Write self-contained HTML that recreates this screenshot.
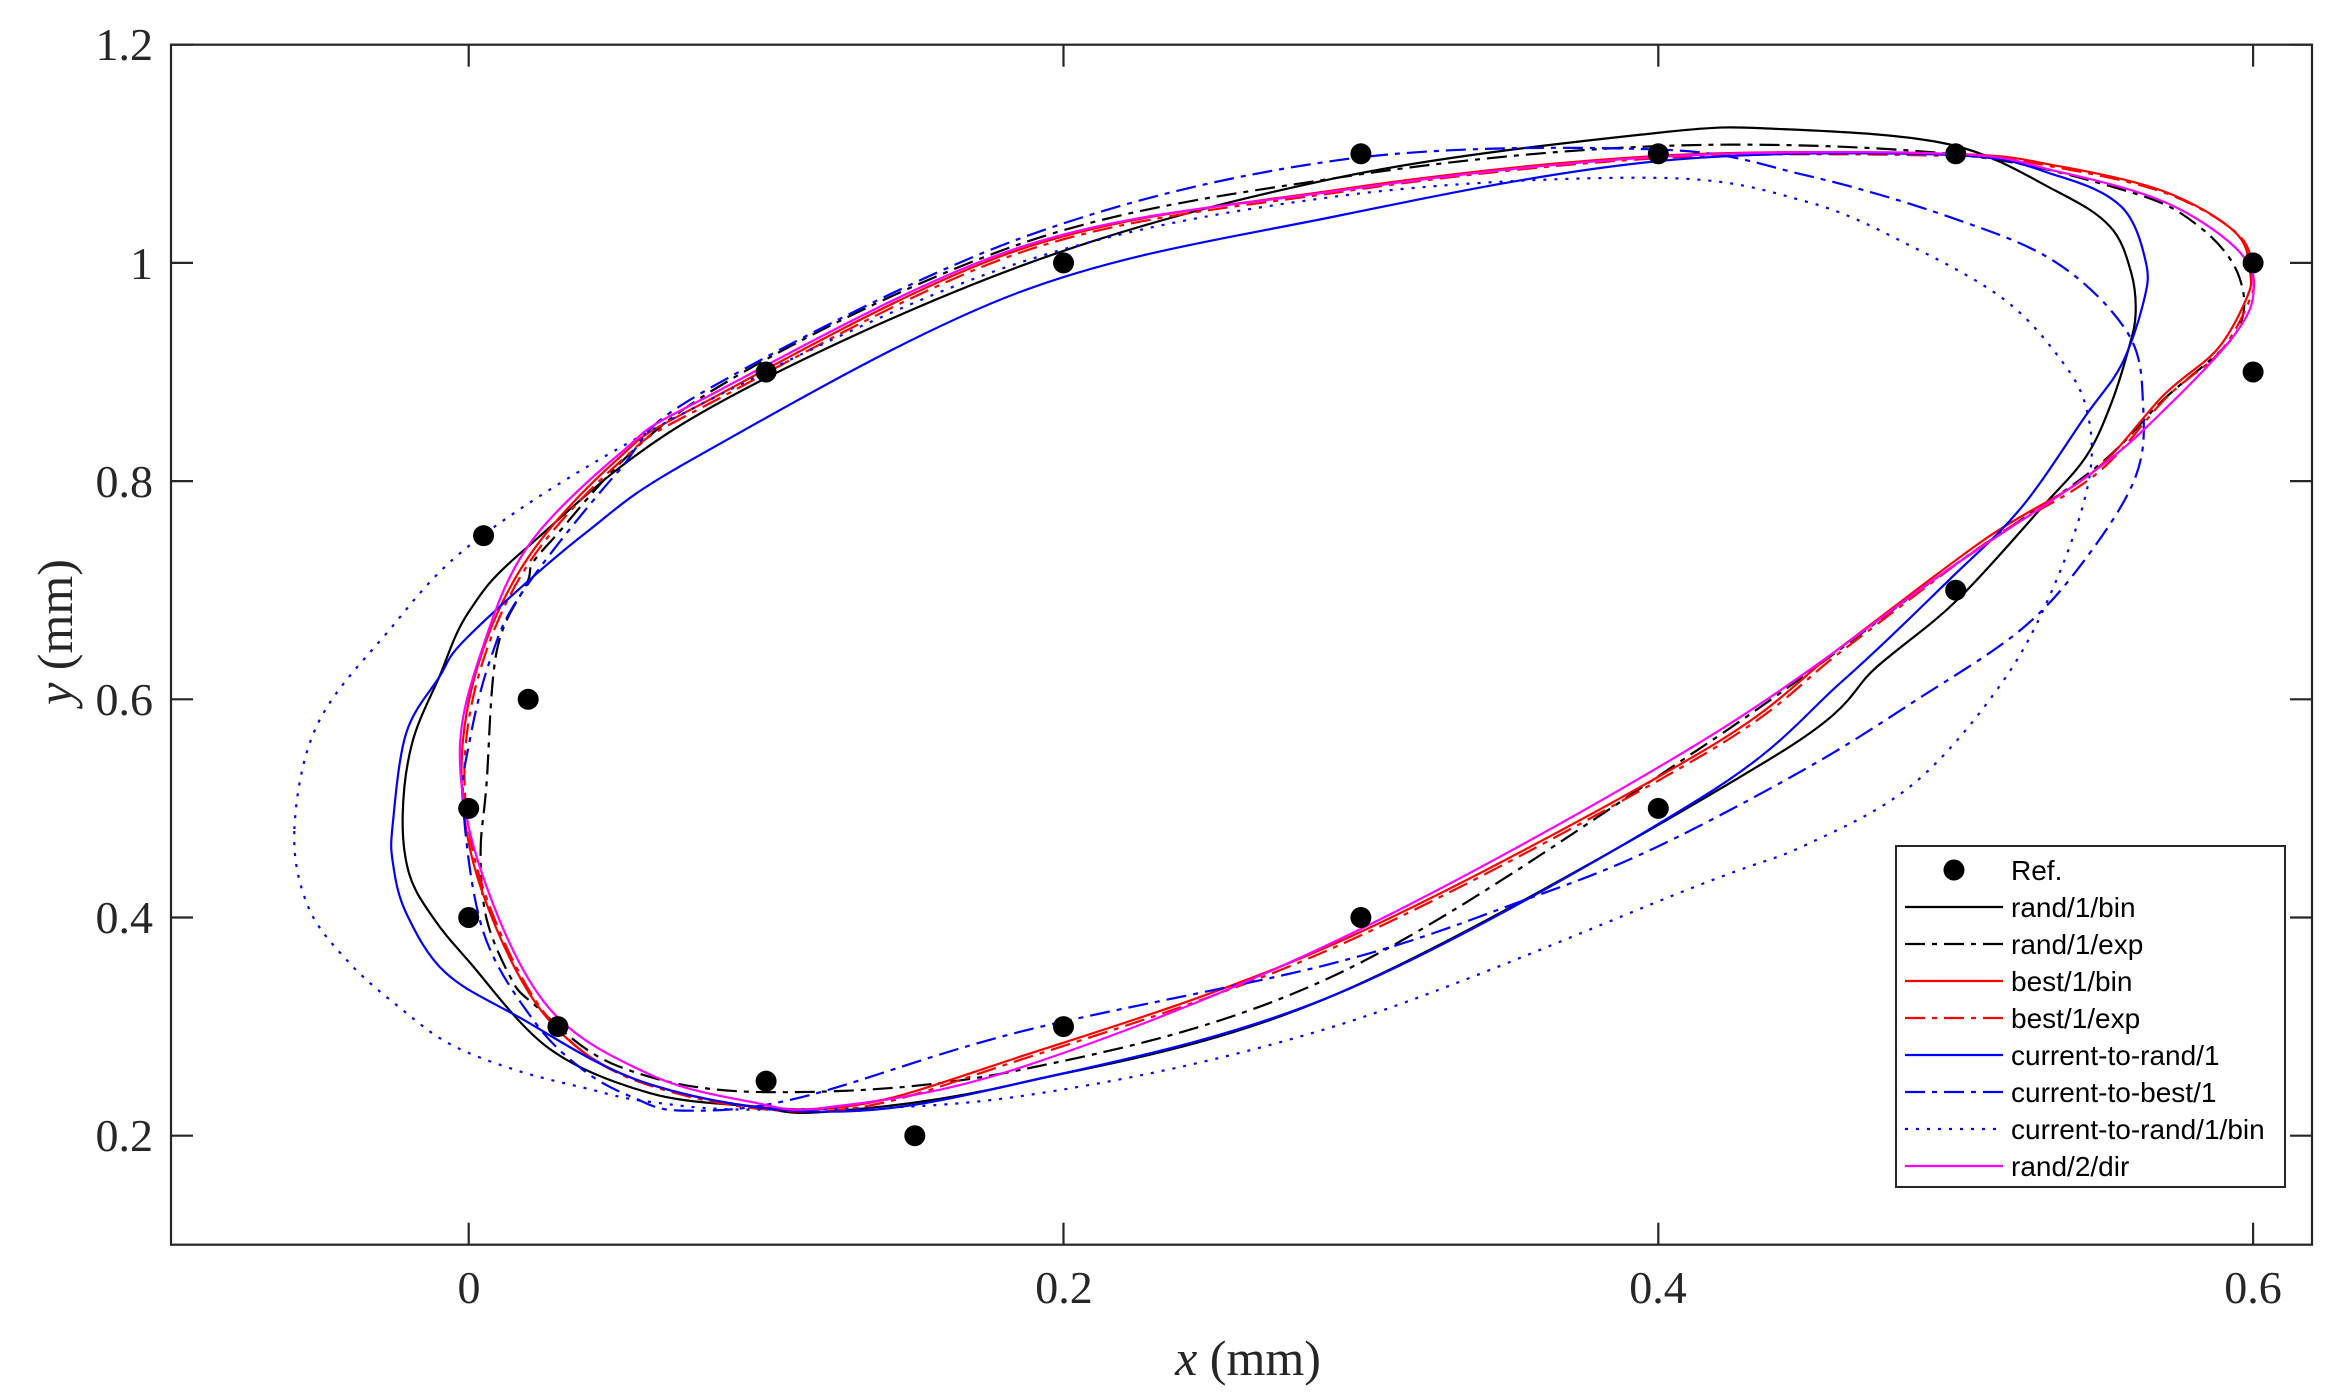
<!DOCTYPE html>
<html><head><meta charset="utf-8"><style>
html,body{margin:0;padding:0;background:#fff;}
svg{display:block;}
.tk{font-family:"Liberation Serif",serif;font-size:46px;fill:#262626;}
.lg{font-family:"Liberation Sans",sans-serif;font-size:28px;fill:#000;}
</style></head><body>
<svg id="s" width="2346" height="1397" viewBox="0 0 2346 1397" xmlns="http://www.w3.org/2000/svg">
<rect width="2346" height="1397" fill="#fff"/>
<g id="curves"></g>
<g id="pts"></g>
<rect x="171" y="44.7" width="2141" height="1200" fill="none" stroke="#262626" stroke-width="2.2"/>
<g id="ticks" stroke="#262626" stroke-width="2.2"></g>
<g class="tk" text-anchor="middle">
<text x="469" y="1303">0</text><text x="1064" y="1303">0.2</text><text x="1658" y="1303">0.4</text><text x="2253" y="1303">0.6</text>
</g>
<g class="tk" text-anchor="end">
<text x="153" y="60">1.2</text><text x="153" y="279">1</text><text x="153" y="497">0.8</text><text x="153" y="715">0.6</text><text x="153" y="933">0.4</text><text x="153" y="1151">0.2</text>
</g>
<text x="1248" y="1375" text-anchor="middle" style="font-family:'Liberation Serif',serif;font-size:50px;fill:#262626"><tspan font-style="italic">x</tspan> (mm)</text>
<text transform="translate(72,632) rotate(-90)" text-anchor="middle" style="font-family:'Liberation Serif',serif;font-size:50px;fill:#262626"><tspan font-style="italic">y</tspan> (mm)</text>
<rect x="1896" y="846" width="389" height="341" fill="#fff" stroke="#262626" stroke-width="2"/>
<g id="leg"></g>
</svg>
<script>
var X=function(x){return 468.7+2974*x;}, Y=function(y){return 44.7+(1.2-y)*1091;};
var NS="http://www.w3.org/2000/svg";
function el(p,t,a){var e=document.createElementNS(NS,t);for(var k in a)e.setAttribute(k,a[k]);p.appendChild(e);return e;}
function cr(pts){var P=pts.map(function(p){return [X(p[0]),Y(p[1])];});var n=P.length,d="M"+P[0][0].toFixed(1)+","+P[0][1].toFixed(1);
for(var i=0;i<n;i++){var p0=P[(i-1+n)%n],p1=P[i],p2=P[(i+1)%n],p3=P[(i+2)%n];
var c1=[p1[0]+(p2[0]-p0[0])/6,p1[1]+(p2[1]-p0[1])/6],c2=[p2[0]-(p3[0]-p1[0])/6,p2[1]-(p3[1]-p1[1])/6];
d+="C"+c1[0].toFixed(1)+","+c1[1].toFixed(1)+" "+c2[0].toFixed(1)+","+c2[1].toFixed(1)+" "+p2[0].toFixed(1)+","+p2[1].toFixed(1);}
return d+"Z";}
var DD="20 7 5 7", DOT="3 8";
var M=[[-0.003,0.55],[0.005,0.65],[0.0206,0.743],[0.052,0.828],[0.0778,0.874],[0.185,1.014],[0.292,1.066],[0.399,1.097],[0.498,1.1],[0.534,1.084],[0.570,1.056],[0.594,1.014],[0.6002,0.977],[0.594,0.935],[0.570,0.865],[0.546,0.808],[0.498,0.72],[0.414,0.5605],[0.292,0.379],[0.185,0.262],[0.1207,0.226],[0.095,0.231],[0.061,0.256],[0.027,0.317],[0.005,0.436]];
var R=[[-0.0024,0.526],[0.003,0.63],[0.02,0.73],[0.05,0.82],[0.0778,0.87],[0.185,1.012],[0.292,1.067],[0.399,1.098],[0.498,1.1],[0.534,1.089],[0.570,1.0655],[0.594,1.028],[0.599,0.991],[0.5977,0.967],[0.588,0.921],[0.570,0.879],[0.546,0.808],[0.510,0.747],[0.462,0.649],[0.414,0.551],[0.292,0.377],[0.185,0.272],[0.1207,0.225],[0.061,0.247],[0.027,0.306],[0.005,0.42]];
var R2=R.map(function(p){return [p[0]+0.001,p[1]-0.002];});
var K=[[-0.0222,0.494],[-0.019,0.56],[-0.01,0.62],[0.0,0.68],[0.0195,0.739],[0.0778,0.862],[0.185,0.9965],[0.292,1.078],[0.399,1.119],[0.4416,1.1226],[0.498,1.1085],[0.534,1.0655],[0.552,1.033],[0.559,0.991],[0.5605,0.953],[0.558,0.92],[0.552,0.869],[0.5437,0.822],[0.529,0.776],[0.5005,0.691],[0.474,0.631],[0.438,0.546],[0.292,0.33],[0.185,0.248],[0.1207,0.222],[0.095,0.227],[0.061,0.239],[0.027,0.28],[0.0,0.36],[-0.012,0.40],[-0.02,0.44]];
var KD=[[0.004,0.46],[0.006,0.522],[0.0094,0.644],[0.0195,0.706],[0.027,0.743],[0.0778,0.876],[0.185,1.017],[0.292,1.078],[0.399,1.107],[0.498,1.1],[0.558,1.0655],[0.582,1.033],[0.5954,0.9866],[0.594,0.935],[0.570,0.875],[0.546,0.81],[0.498,0.72],[0.414,0.555],[0.292,0.348],[0.185,0.26],[0.0992,0.24],[0.05,0.264],[0.0217,0.321],[0.0139,0.346],[0.006,0.399]];
var B=[[-0.0255,0.487],[-0.021,0.569],[-0.01,0.62],[0.0,0.658],[0.0386,0.751],[0.0778,0.824],[0.185,0.973],[0.292,1.043],[0.399,1.093],[0.498,1.099],[0.534,1.08],[0.5557,1.0515],[0.564,1.0],[0.563,0.9626],[0.5557,0.9065],[0.5437,0.86],[0.522,0.7755],[0.498,0.71],[0.462,0.617],[0.414,0.509],[0.292,0.33],[0.185,0.248],[0.1207,0.222],[0.061,0.247],[0.016,0.31],[-0.008,0.35],[-0.021,0.404],[-0.0255,0.45]];
var BD=[[-0.0018,0.501],[0.0004,0.563],[0.0072,0.636],[0.018,0.698],[0.05,0.808],[0.0778,0.88],[0.185,1.022],[0.292,1.094],[0.399,1.104],[0.45,1.08],[0.498,1.042],[0.534,1.0],[0.558,0.935],[0.563,0.869],[0.5605,0.804],[0.5437,0.729],[0.522,0.664],[0.486,0.598],[0.45,0.537],[0.399,0.464],[0.357,0.418],[0.292,0.359],[0.185,0.295],[0.11,0.234],[0.072,0.223],[0.0553,0.235],[0.0386,0.26],[0.022,0.305],[0.005,0.386]];
var D=[[-0.0586,0.481],[-0.0512,0.575],[-0.0287,0.657],[0.005,0.751],[0.0778,0.87],[0.185,1.0],[0.292,1.061],[0.399,1.078],[0.45,1.056],[0.486,1.014],[0.516,0.967],[0.534,0.916],[0.5437,0.869],[0.545,0.804],[0.534,0.71],[0.516,0.617],[0.486,0.523],[0.45,0.467],[0.414,0.43],[0.292,0.301],[0.185,0.236],[0.1,0.224],[0.061,0.231],[0.0386,0.244],[0.016,0.26],[-0.0063,0.284],[-0.023,0.317],[-0.04,0.358],[-0.054,0.41]];
var series=[[K,"#000",null],[KD,"#000",DD],[R,"#ff0000",null],[R2,"#ff0000",DD],[B,"#0000ff",null],[BD,"#0000ff",DD],[D,"#0000ff",DOT],[M,"#ff00ff",null]];
var g=document.getElementById("curves");
series.forEach(function(s){var a={d:cr(s[0]),fill:"none",stroke:s[1],"stroke-width":"2.2"};if(s[2])a["stroke-dasharray"]=s[2];el(g,"path",a);});
var refs=[[0.3,1.1],[0.4,1.1],[0.5,1.1],[0.2,1.0],[0.6,1.0],[0.6,0.9],[0.1,0.9],[0.005,0.75],[0.02,0.6],[0,0.5],[0,0.4],[0.03,0.3],[0.1,0.25],[0.15,0.2],[0.2,0.3],[0.3,0.4],[0.4,0.5],[0.5,0.7]];
var gp=document.getElementById("pts");
refs.forEach(function(p){el(gp,"circle",{cx:X(p[0]),cy:Y(p[1]),r:10.5,fill:"#000"});});
var gt=document.getElementById("ticks");
[0,0.2,0.4,0.6].forEach(function(v){var x=X(v);el(gt,"line",{x1:x,y1:1244.7,x2:x,y2:1222.7});el(gt,"line",{x1:x,y1:44.7,x2:x,y2:66.7});});
[0.2,0.4,0.6,0.8,1,1.2].forEach(function(v){var y=Y(v);el(gt,"line",{x1:171,y1:y,x2:193,y2:y});el(gt,"line",{x1:2312,y1:y,x2:2290,y2:y});});
var lg=document.getElementById("leg");
var names=["rand/1/bin","rand/1/exp","best/1/bin","best/1/exp","current-to-rand/1","current-to-best/1","current-to-rand/1/bin","rand/2/dir"];
var sty=[["#000",null],["#000",DD],["#ff0000",null],["#ff0000",DD],["#0000ff",null],["#0000ff",DD],["#0000ff",DOT],["#ff00ff",null]];
el(lg,"circle",{cx:1954,cy:870,r:10.5,fill:"#000"});
var t=el(lg,"text",{x:2011,y:880,"class":"lg"});t.textContent="Ref.";
names.forEach(function(n,i){var y=907+i*37;var a={x1:1905,y1:y,x2:2003,y2:y,stroke:sty[i][0],"stroke-width":"2.2"};if(sty[i][1])a["stroke-dasharray"]=sty[i][1];el(lg,"line",a);
var tt=el(lg,"text",{x:2011,y:y+10,"class":"lg"});tt.textContent=n;});
</script>
</body></html>
